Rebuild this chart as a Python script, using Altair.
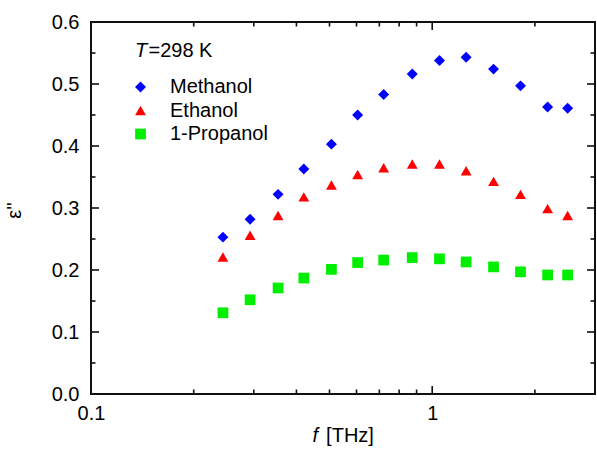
import altair as alt
import pandas as pd

# ---- data ----
freq_thz = [0.2436, 0.2926, 0.3534, 0.4205, 0.5066, 0.6046, 0.7207,
            0.8740, 1.0504, 1.2572, 1.5127, 1.8148, 2.179, 2.494]
methanol = [0.253, 0.282, 0.322, 0.363, 0.403, 0.450, 0.483,
            0.516, 0.538, 0.543, 0.524, 0.497, 0.463, 0.461]
ethanol = [0.221, 0.256, 0.288, 0.318, 0.337, 0.354, 0.365,
           0.371, 0.371, 0.360, 0.343, 0.322, 0.299, 0.288]
propanol = [0.131, 0.152, 0.171, 0.187, 0.201, 0.212, 0.216,
            0.220, 0.218, 0.213, 0.205, 0.197, 0.192, 0.192]

series_names = ["Methanol", "Ethanol", "1-Propanol"]
series_colors = ["#0000ff", "#ff0000", "#00ee00"]
series_shapes = ["diamond", "triangle-up", "square"]
series_sizes = [120, 115, 75]

x_major = [0.1, 1]
x_minor = [0.2, 0.3, 0.4, 0.5, 0.6, 0.7, 0.8, 0.9, 2]
y_major = [0.0, 0.1, 0.2, 0.3, 0.4, 0.5, 0.6]
y_minor = [0.05, 0.15, 0.25, 0.35, 0.45, 0.55]

rows = []
for name, vals in zip(series_names, [methanol, ethanol, propanol]):
    for f, v in zip(freq_thz, vals):
        rows.append({"f": f, "eps": v, "series": name})
df = pd.DataFrame(rows)

W, H = 504, 372
FONT = "Liberation Sans"
FS = 20
MAJ, MIN = 8, 4.5

xscale = alt.Scale(type="log", domain=[0.1, 3], nice=False)
yscale = alt.Scale(domain=[0, 0.6], nice=False, zero=False)

x_axis = alt.Axis(orient="bottom", values=x_major, format="~g",
                  ticks=False, domain=False, grid=False,
                  labelFont=FONT, labelFontSize=FS,
                  labelColor="black", labelPadding=9,
                  labelFlush=False, title=None)
y_axis = alt.Axis(orient="left", values=y_major, format=".1f",
                  ticks=False, domain=False, grid=False,
                  labelFont=FONT, labelFontSize=FS,
                  labelColor="black", labelPadding=12,
                  title="ε''", titleFont=FONT, titleFontSize=FS,
                  titleFontWeight="normal", titleColor="black",
                  titleX=-77, titleY=188, titleAngle=270,
                  titleBaseline="middle", titleAlign="center")

legend = alt.Legend(orient="none", legendX=39.5, legendY=55, title=None,
                    labelFont=FONT, labelFontSize=FS, labelColor="black",
                    labelOffset=19.5, rowPadding=3.5, padding=0,
                    symbolStrokeWidth=0, symbolOpacity=1)

points = alt.Chart(df).mark_point(filled=True, opacity=1).encode(
    x=alt.X("f:Q", scale=xscale, axis=x_axis),
    y=alt.Y("eps:Q", scale=yscale, axis=y_axis),
    color=alt.Color("series:N",
                    scale=alt.Scale(domain=series_names, range=series_colors),
                    legend=legend),
    shape=alt.Shape("series:N",
                    scale=alt.Scale(domain=series_names, range=series_shapes),
                    legend=legend),
    size=alt.Size("series:N",
                  scale=alt.Scale(domain=series_names, range=series_sizes),
                  legend=legend),
)

# inward tick marks on all four sides, positioned through the shared scales
xt_major = pd.DataFrame({"v": x_major})
xt_minor = pd.DataFrame({"v": x_minor})
yt_major = pd.DataFrame({"v": y_major})
yt_minor = pd.DataFrame({"v": y_minor})

TICK_COLOR = "#111111"


def xticks(data, length):
    b = alt.Chart(data).mark_rule(color=TICK_COLOR, strokeWidth=1.6)
    xe = alt.X("v:Q", scale=xscale, axis=None)
    return [
        b.encode(x=xe, y=alt.value(H), y2=alt.value(H - length)),
        b.encode(x=xe, y=alt.value(0), y2=alt.value(length)),
    ]


def yticks(data, length):
    b = alt.Chart(data).mark_rule(color=TICK_COLOR, strokeWidth=1.6)
    ye = alt.Y("v:Q", scale=yscale, axis=None)
    return [
        b.encode(y=ye, x=alt.value(0), x2=alt.value(length)),
        b.encode(y=ye, x=alt.value(W), x2=alt.value(W - length)),
    ]


ticks = (xticks(xt_major, MAJ) + xticks(xt_minor, MIN)
         + yticks(yt_major, MAJ) + yticks(yt_minor, MIN))

one = pd.DataFrame({"k": [0]})


def label(text, x, y, italic=False, align="left"):
    return alt.Chart(one).mark_text(
        text=text, font=FONT, fontSize=FS,
        fontStyle="italic" if italic else "normal",
        align=align, baseline="alphabetic", color="black"
    ).encode(x=alt.value(x), y=alt.value(y))


texts = [
    label("T", 44, 34.7, italic=True),
    label("=298 K", 57.5, 34.7),
    label("f", 227, 419.7, italic=True, align="right"),
    label("[THz]", 259, 419.7, align="center"),
]

chart = alt.layer(points, *ticks, *texts).resolve_axis(
    x="independent", y="independent"
).properties(
    width=W, height=H,
    padding={"left": 91, "top": 22, "right": 2, "bottom": 61},
    autosize=alt.AutoSizeParams(type="none"),
).configure_view(stroke="#111111", strokeWidth=2)

chart.save("out.html", embed_options={"renderer": "svg", "actions": False})
